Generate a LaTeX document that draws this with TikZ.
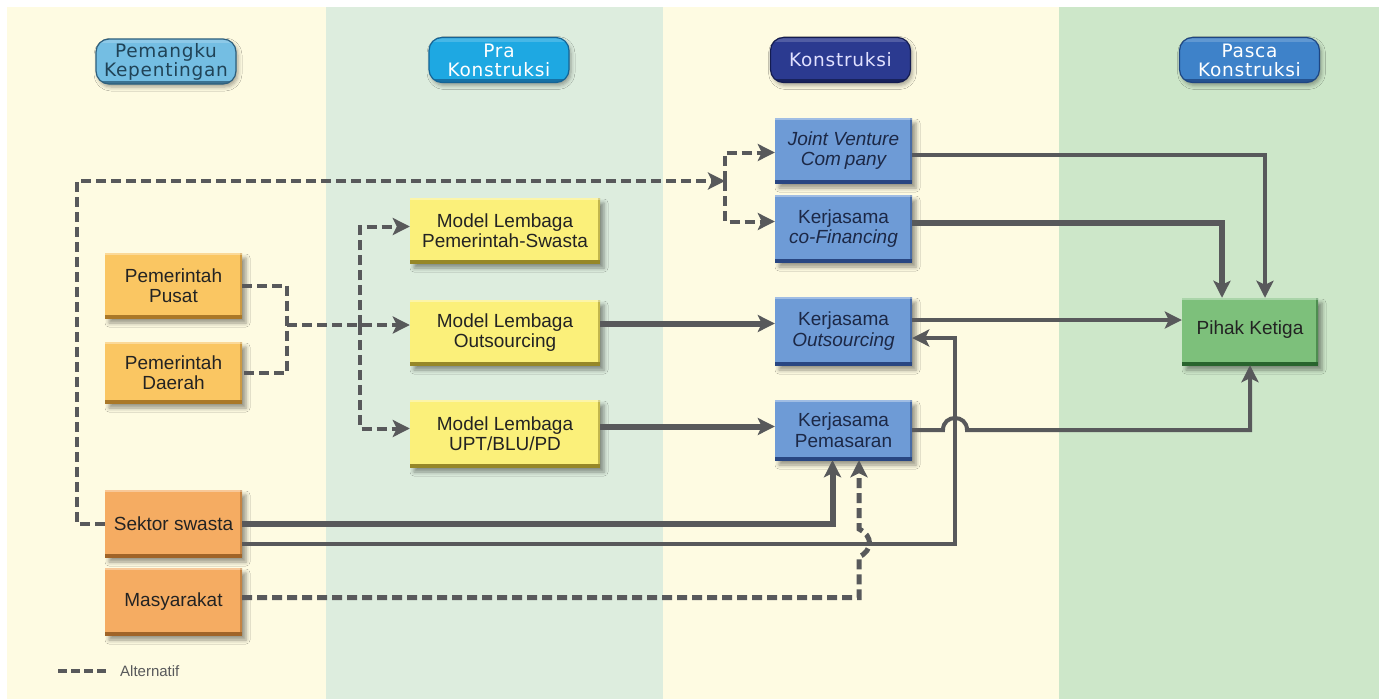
\documentclass[tikz,border=0pt]{standalone}
\usepackage{fontspec}
\setmainfont{Liberation Sans}
\newfontfamily\hdrfont[LetterSpace=4]{DejaVu Sans}
\usetikzlibrary{arrows.meta,shadows.blur}

% column backgrounds
\definecolor{cream}{RGB}{254,251,226}
\definecolor{mintA}{RGB}{221,237,222}
\definecolor{mintB}{RGB}{205,231,201}
% boxes
\definecolor{orangeA}{RGB}{250,198,98}
\definecolor{orangeAd}{RGB}{170,120,40}
\definecolor{orangeB}{RGB}{245,172,98}
\definecolor{orangeBd}{RGB}{160,100,40}
\definecolor{yel}{RGB}{251,240,122}
\definecolor{yeld}{RGB}{150,135,40}
\definecolor{blu}{RGB}{110,155,214}
\definecolor{blud}{RGB}{40,70,130}
\definecolor{grn}{RGB}{125,192,123}
\definecolor{grnd}{RGB}{40,100,45}
\definecolor{txtdark}{RGB}{35,35,35}
\definecolor{txtblue}{RGB}{28,40,70}
% headers
\definecolor{hdrA}{RGB}{116,190,227}
\definecolor{hdrAd}{RGB}{45,95,125}
\definecolor{hdrB}{RGB}{30,168,226}
\definecolor{hdrBd}{RGB}{20,100,150}
\definecolor{hdrC}{RGB}{43,58,144}
\definecolor{hdrCd}{RGB}{20,28,80}
\definecolor{hdrD}{RGB}{62,130,201}
\definecolor{hdrDd}{RGB}{30,70,130}
% connectors
\definecolor{lineg}{RGB}{88,89,91}

\newcommand\bxfont{\fontsize{19}{20.5}\selectfont}
\newcommand\hdfont{\hdrfont\fontsize{18.5}{19}\selectfont}

\tikzset{
  box/.style 2 args={rectangle, inner sep=0pt, align=center, fill=#1,
    font=\bxfont, text=txtdark,
    blur shadow={shadow xshift=4pt, shadow yshift=-5pt,
                 shadow blur radius=4pt, shadow opacity=40},
    path picture={
      \draw[#2, line width=6pt]
        (path picture bounding box.south west) -- (path picture bounding box.south east);
      \draw[#2, line width=5pt, opacity=0.55]
        (path picture bounding box.south east) -- (path picture bounding box.north east);
      \draw[white, line width=3pt, opacity=0.35]
        (path picture bounding box.north west) -- (path picture bounding box.north east);
    }},
  sz/.style 2 args={minimum width=#1pt, minimum height=#2pt},
  hdr/.style 2 args={rectangle, rounded corners=13pt, inner sep=0pt, align=center,
    minimum width=140pt, minimum height=45pt, fill=#1, draw=#2, line width=1.2pt,
    font=\hdfont,
    blur shadow={shadow xshift=2pt, shadow yshift=-3pt,
                 shadow blur radius=4pt, shadow opacity=35},
    path picture={
      \draw[#2, line width=7pt, opacity=0.8]
        (path picture bounding box.south west) -- (path picture bounding box.south east);
      \draw[white, line width=8pt, opacity=0.18]
        (path picture bounding box.north west) -- (path picture bounding box.north east);
    }},
  conn/.style={draw=lineg, line cap=butt, line join=miter},
  thickln/.style={conn, line width=6pt},
  thinln/.style={conn, line width=4pt},
  alt/.style={conn, line width=4pt, dash pattern=on 10pt off 5pt},
  altthick/.style={conn, line width=5pt, dash pattern=on 10pt off 5pt},
  tip/.style={-{Stealth[length=17pt,width=17pt,inset=4pt]}},
  legendtxt/.style={font=\fontsize{15}{16}\selectfont, text=lineg, inner sep=0pt, anchor=west},
}

\begin{document}
\begin{tikzpicture}[x=1pt,y=-1pt]
\useasboundingbox (0,0) rectangle (1379,699);
\fill[white] (0,0) rectangle (1379,699);

% the four phase columns
\fill[cream] (7,7) rectangle (326,699);
\fill[mintA] (326,7) rectangle (663,699);
\fill[cream] (663,7) rectangle (1059,699);
\fill[mintB] (1059,7) rectangle (1379,699);

% column headers
\node[hdr={hdrA}{hdrAd}, text=hdrAd!70!black] (h1) at (166,61.5) {Pemangku\\Kepentingan};
\node[hdr={hdrB}{hdrBd}, text=white] (h2) at (499,60) {Pra\\Konstruksi};
\node[hdr={hdrC}{hdrCd}, text=white!88!blue] (h3) at (840.5,60) {Konstruksi};
\node[hdr={hdrD}{hdrDd}, text=white] (h4) at (1249.5,60) {Pasca\\Konstruksi};

% stakeholders
\node[box={orangeA}{orangeAd}, sz={137}{65}] (PP) at (173.5,285.5) {Pemerintah\\Pusat};
\node[box={orangeA}{orangeAd}, sz={137}{61}] (PD) at (173.5,372.5) {Pemerintah\\Daerah};
\node[box={orangeB}{orangeBd}, sz={137}{67}] (SS) at (173.5,523.5) {Sektor swasta};
\node[box={orangeB}{orangeBd}, sz={137}{67}] (MS) at (173.5,601.5) {\raisebox{4pt}{Masyarakat}};

% pre-construction models
\node[box={yel}{yeld}, sz={190}{65}] (MPS) at (505,230.5) {Model Lembaga\\Pemerintah-Swasta};
\node[box={yel}{yeld}, sz={190}{65}] (MO) at (505,332.5) {Model Lembaga\\Outsourcing};
\node[box={yel}{yeld}, sz={190}{67}] (MU) at (505,433.5) {Model Lembaga\\UPT/BLU/PD};

% construction-phase cooperation forms
\node[box={blu}{blud}, sz={137}{65}, text=txtblue, font=\bxfont\itshape] (JV) at (843.5,150.5)
  {Joint Venture\\Com\hspace{4pt}pany};
\node[box={blu}{blud}, sz={137}{67}, text=txtblue] (KCF) at (843.5,228.5) {Kerjasama\\\textit{co-Financing}};
\node[box={blu}{blud}, sz={137}{68}, text=txtblue] (KO) at (843.5,331) {Kerjasama\\\textit{Outsourcing}};
\node[box={blu}{blud}, sz={137}{60}, text=txtblue] (KP) at (843.5,430) {Kerjasama\\Pemasaran};

% post-construction
\node[box={grn}{grnd}, sz={136}{67}] (PK) at (1250,331.5) {\raisebox{8pt}{Pihak Ketiga}};

% junction points
\coordinate (split) at (725,181);
\coordinate (j1) at (287,325);
\coordinate (j2) at (360,325);

% alternative (dashed) routes
\draw[alt,tip] (SS.west) -- ++(-28,0) |- (split);
\draw[alt,tip] (split) |- ([yshift=-2pt]JV.west);
\draw[alt,tip] (split) |- ([yshift=7pt]KCF.west);
\draw[alt] (PP.east) -| (j1) |- (PD.east);
\draw[alt,tip] (j1) -- (j1 -| MO.west);
\draw[alt,tip] (j2) |- ([yshift=4pt]MPS.west);
\draw[alt,tip] (j2) |- ([yshift=5pt]MU.west);

% main routes
\draw[thickln,tip] ([yshift=9pt]MO.east) -- ([yshift=9pt]MO.east -| KO.west);
\draw[thickln,tip] ([yshift=7pt]MU.east) -- ([yshift=7pt]MU.east -| KP.west);
\draw[thinln,tip] ([yshift=-4pt]JV.east) -| ([xshift=15pt]PK.north);
\draw[thickln,tip] ([yshift=6pt]KCF.east) -| ([xshift=-28pt]PK.north);
\draw[thinln,tip] ([yshift=11pt]KO.east) -- ([yshift=11pt]KO.east -| PK.west);
\draw[thinln,tip] ([yshift=-20pt]SS.east) -| ([xshift=43pt,yshift=-7pt]KO.east) -- ([yshift=-7pt]KO.east);
\draw[thinln,tip] (KP.east) -- (943,430) .. controls (943,414) and (967,414) .. (967,430)
  -- (KP.east -| PK.south) -- (PK.south);
\draw[thickln,tip] (SS.east) -| ([xshift=-11pt]KP.south);
\draw[altthick,tip] ([yshift=4pt]MS.east) -| (859,557) .. controls (873,550) and (873,536) .. (859,529)
  -- ([xshift=15.5pt]KP.south);

% legend
\coordinate (lgA) at (58,671);
\coordinate (lgB) at (108,671);
\draw[conn, line width=3.5pt, dash pattern=on 9pt off 4pt] (lgA) -- (lgB);
\node[legendtxt] (lg) at (120,671) {Alternatif};
\end{tikzpicture}
\end{document}
